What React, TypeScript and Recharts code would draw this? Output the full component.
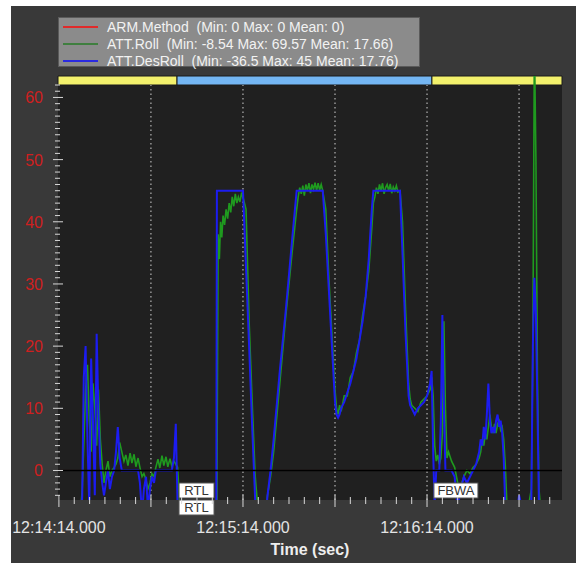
import {
  LineChart,
  Line,
  XAxis,
  YAxis,
  CartesianGrid,
  ReferenceLine,
  ReferenceArea,
} from "recharts";

// seconds since 12:14:14.000
const seconds = [
  7.0, 7.6, 8.1, 8.7, 9.3, 9.9, 10.5, 11.1, 11.7, 12.3, 12.9, 13.5, 14.1, 14.7, 15.3, 16.0, 16.6, 17.3,
  18.0, 18.6, 19.2, 19.8, 20.5, 21.2, 21.8, 22.5, 23.2, 23.8, 24.5, 25.1, 25.8, 26.4, 27.1, 27.7, 28.4,
  29.0, 29.7, 30.3, 31.0, 31.6, 32.3, 32.9, 33.6, 34.2, 34.9, 35.5, 36.2, 36.8, 37.5, 38.1, 38.7, 39.3,
  40.5, 45.0, 50.5, 51.2, 51.5, 51.9, 52.3, 52.7, 53.1, 53.5, 54.0, 54.5, 55.0, 55.5, 56.0, 56.5, 57.0,
  57.5, 58.0, 58.5, 59.0, 59.5, 60.0, 61.0, 62.0, 63.0, 64.0, 65.0, 66.0, 67.0, 68.0, 69.0, 70.0, 72.0,
  74.0, 76.0, 77.5, 78.0, 78.5, 79.0, 79.5, 80.0, 80.5, 81.0, 81.5, 82.0, 82.5, 83.0, 83.5, 84.0, 84.5,
  85.0, 85.5, 86.0, 87.0, 88.0, 89.0, 90.0, 90.5, 91.0, 91.5, 92.0, 93.0, 94.0, 95.0, 96.0, 97.0, 98.0,
  99.0, 100.0, 101.0, 102.0, 102.5, 103.0, 103.5, 104.0, 104.5, 105.0, 105.5, 106.0, 106.5, 107.0,
  107.5, 108.0, 108.5, 109.0, 109.5, 110.0, 110.5, 111.2, 112.0, 113.0, 114.0, 114.5, 115.0, 116.0,
  117.0, 118.0, 119.0, 120.0, 121.0, 121.5, 122.0, 122.5, 123.0, 123.5, 124.0, 124.5, 125.0, 125.5,
  126.0, 126.5, 127.0, 128.0, 129.0, 130.0, 131.0, 132.0, 133.0, 134.0, 135.0, 136.0, 137.0, 137.5,
  138.0, 138.5, 139.0, 139.5, 140.0, 140.5, 141.0, 141.5, 142.0, 142.5, 143.0, 143.5, 144.0, 144.5,
  145.0, 145.5, 146.0, 147.0, 148.0, 149.0, 150.0, 151.0, 152.0, 153.0, 154.0, 154.5, 155.0, 155.5,
  156.0, 156.5, 157.0, 158.0,
];

const attRoll = [
  -7, -3, 4, 13, 17, 8, 3, 14, 10, 4, 13, 5, 1, -2, 0, 1.5, -1, 0,
  0.5, 1, 2, 4.5, 3, 1.5, 2.5, 0.8, 2.8, 1.2, 2.6, 0.6, 2, 0.5, -1, -0.5, -1.5,
  -3, -2, -0.5, -1, 0.5, 1.8, 0.4, 2.4, 0.8, 2.2, 0.6, 1.9, 0.7, 1.5, 1.0, 0.5, -5,
  -7.5, -8, -8.2, -7, -5, 38, 34, 40, 37.5, 41, 39.5, 42, 40.5, 43, 41.5, 44, 42.5,
  44.5, 43, 44, 43.2, 44.5, 44, 42, 24, 11, -1, -7, -8.54, -8, -4, -1, 3, 14,
  25, 35, 42, 44, 45.5, 44.5, 45.8, 44.2, 46, 45, 46.2, 44.6, 46, 45.2, 46.3, 45, 46.2,
  45.1, 46, 45, 42, 31, 22, 13, 10, 9, 10.5, 9.5, 12, 12, 15, 16, 19, 21,
  25, 28, 32, 39, 43, 44, 45.5, 44.5, 46, 45, 46.2, 44.5, 45.5, 46,
  45, 46.1, 44.6, 45.6, 45, 45.8, 44.8, 45, 40, 26, 14, 11.5, 10.5, 10,
  9.5, 11, 11.5, 12, 13, 15, 12, 4, 1.5, 2.5, 1, 2, 6, 24,
  10, 2, 3, 1.5, 0.5, -2, -2.5, -1, 0, -0.5, 0.5, 1, 2, 3,
  5, 4, 6, 5, 7, 9, 7, 6, 7.5, 6, 7.5, 8, 6.5, 7,
  5, 1, -5, -7, -7, -6, -5, -6, -7, -6, -3, 20, 69.57, 50,
  15, -3, -6, -7,
];

const attDesRoll = [
  -12, -4, 15, 20, 5, -6, 18, 8, -4, 22, 9, 1, -2, -4, -2, 0, -3, -1,
  0, 3, 7, 2, 0, 0, 0, 0, 0, 0, 0, 0, 0, -2, -7, -3, -1,
  -6, -3, -1, -2, 0, 0, 0, 0, 0, 0, 0, 0, 0, 2, 7.5, -6, -30,
  -36.5, -36, -35, -34, 45, 45, 45, 45, 45, 45, 45, 45, 45, 45, 45, 45, 45,
  45, 45, 45, 45, 45, 45, 32.5, 20, 7, -5, -12, -14, -10, -4, 0, 5, 16,
  26, 37, 45, 45, 45, 45, 45, 45, 45, 45, 45, 45, 45, 45, 45, 45, 45,
  45, 45, 45, 38, 29, 20, 11, 9, 8.5, 9, 10, 11, 12.5, 14, 16, 18, 21,
  24, 28, 34, 42, 45, 45, 45, 45, 45, 45, 45, 45, 45, 45,
  45, 45, 45, 45, 45, 45, 45, 45, 35, 22, 12, 10.5, 10, 9,
  10, 10.5, 11, 12, 14, 16, 3, -6, 0, 0, 0, 8, 25, 10,
  0, 0, 0, 0, -1, -6, -3, -1, -2, -1, 0, 1, 3, 5,
  4, 7, 5, 9, 14, 8, 6, 7, 6, 8, 9, 7, 8, 6,
  2, -6, -10, -12, -12, -8, -4, -6, -10, -8, -5, 20, 31, 25,
  10, -6, -10, -12,
];

// ARM.Method stays at zero for the whole log
const armSeconds = [-0.3, 164];
const armMethod = [0, 0];

const timeTicks = Array.from({ length: 33 }, (_, i) => i * 5);
const timeLabels = ["12:14:14.000", "12:15:14.000", "12:16:14.000"];
const gridSeconds = [30, 60, 90, 120, 150];
const rollTicks = Array.from({ length: 67 }, (_, i) => i - 4);

const modeStart = [-0.3, 38.5, 121.6];
const modeEnd = [38.5, 121.6, 164];
const modeName = ["FBWA", "RTL", "FBWA"];
const modeColor: Record<string, string> = { FBWA: "#f3f16c", RTL: "#74b6f3" };

const eventSeconds = [38.5, 38.5, 121.6];
const eventNames = ["RTL", "RTL", "FBWA"];

const legendRows = [
  { name: "ARM.Method", stats: "(Min: 0 Max: 0 Mean: 0)", color: "#e02a2a" },
  { name: "ATT.Roll", stats: "(Min: -8.54 Max: 69.57 Mean: 17.66)", color: "#3f7f3f" },
  { name: "ATT.DesRoll", stats: "(Min: -36.5 Max: 45 Mean: 17.76)", color: "#2a2ae0" },
];

const Y_MIN = -4.75;
const Y_MAX = 63.45;
const X_MIN = -0.3;
const X_MAX = 164;

const data = seconds.map((t, i) => ({ t, roll: attRoll[i], des: attDesRoll[i] }));
const armData = armSeconds.map((t, i) => ({ t, arm: armMethod[i] }));

function TimeTick({ x, y, payload }: any) {
  const t = payload.value as number;
  const major = t % 30 === 0;
  const label = t % 60 === 0 ? timeLabels[t / 60] : null;
  return (
    <g>
      <line x1={x} x2={x} y1={y - (major ? 5 : 3)} y2={y + (major ? 7 : 4)} stroke="#d8d8d8" />
      {label && (
        <text x={x} y={y + 33} textAnchor="middle" fill="#e4e4e4" fontSize={16}>
          {label}
        </text>
      )}
    </g>
  );
}

function RollTick({ x, y, payload }: any) {
  const v = payload.value as number;
  const major = v % 10 === 0;
  return (
    <g>
      <line x1={x - (major ? 5 : 3)} x2={x + (major ? 5 : 2)} y1={y} y2={y} stroke="#d8d8d8" />
      {major && (
        <text x={x - 15} y={y + 6} textAnchor="end" fill="#cf1f1f" fontSize={16}>
          {v}
        </text>
      )}
    </g>
  );
}

function EventTag({ viewBox, name, row }: any) {
  if (!viewBox) return null;
  const { x, y, height } = viewBox;
  const w = name.length * 9 + 8;
  const top = y + height - 17 + row * 17;
  return (
    <g>
      <rect x={x + 2} y={top} width={w} height={15} fill="#ffffff" stroke="#555" />
      <text x={x + 2 + w / 2} y={top + 12} textAnchor="middle" fontSize={13} fill="#333">
        {name}
      </text>
    </g>
  );
}

export default function App() {
  return (
    <div
      style={{
        position: "absolute",
        left: 11,
        top: 6,
        width: 565,
        height: 557,
        background: "#393939",
        fontFamily: "'Liberation Sans', Arial, sans-serif",
      }}
    >
      <LineChart
        width={565}
        height={557}
        data={data}
        margin={{ top: 70, right: 14, bottom: 0, left: 0 }}
      >
        <CartesianGrid horizontal={false} vertical={false} fill="#202020" stroke="none" />
        <XAxis
          dataKey="t"
          type="number"
          domain={[X_MIN, X_MAX]}
          allowDataOverflow
          ticks={timeTicks}
          interval={0}
          tick={(p: any) => <TimeTick {...p} />}
          tickLine={false}
          axisLine={false}
          tickSize={0}
          tickMargin={0}
          height={63}
          label={{
            value: "Time (sec)",
            position: "insideBottom",
            offset: 8,
            fill: "#eeeeee",
            fontSize: 16,
            fontWeight: "bold",
          }}
        />
        <YAxis
          type="number"
          domain={[Y_MIN, Y_MAX]}
          allowDataOverflow
          ticks={rollTicks}
          interval={0}
          tick={(p: any) => <RollTick {...p} />}
          tickLine={false}
          axisLine={false}
          tickSize={0}
          tickMargin={0}
          width={47}
        />
        {modeName.map((m, i) => (
          <ReferenceArea
            key={`mode-${i}`}
            x1={modeStart[i]}
            x2={modeEnd[i]}
            y1={62}
            y2={Y_MAX}
            fill={modeColor[m]}
            fillOpacity={1}
            stroke="#1a1a1a"
            strokeWidth={1}
          />
        ))}
        {gridSeconds.map((s) => (
          <ReferenceLine
            key={`grid-${s}`}
            segment={[
              { x: s, y: Y_MIN },
              { x: s, y: 62 },
            ]}
            stroke="#d0d0d0"
            strokeDasharray="1.5 3"
          />
        ))}
        <Line
          data={armData}
          dataKey="arm"
          stroke="#e02a2a"
          strokeWidth={1}
          dot={false}
          isAnimationActive={false}
        />
        <Line
          dataKey="roll"
          stroke="#1f9a1f"
          strokeWidth={1.6}
          dot={false}
          isAnimationActive={false}
        />
        <Line
          dataKey="des"
          stroke="#1c1cf0"
          strokeWidth={2}
          dot={false}
          isAnimationActive={false}
        />
        <ReferenceLine y={0} stroke="#000000" strokeWidth={1.5} />
        {eventNames.map((n, i) => (
          <ReferenceLine
            key={`event-${i}`}
            x={eventSeconds[i]}
            stroke="none"
            label={(p: any) => (
              <EventTag
                {...p}
                name={n}
                row={eventSeconds.slice(0, i).filter((s) => s === eventSeconds[i]).length}
              />
            )}
          />
        ))}
      </LineChart>
      <div
        style={{
          position: "absolute",
          left: 47,
          top: 11,
          width: 360,
          height: 48,
          background: "#8b8b8b",
          border: "1px solid #5a5a5a",
          paddingTop: 0,
        }}
      >
        {legendRows.map((r) => (
          <div
            key={r.name}
            style={{ display: "flex", alignItems: "center", height: 17, marginTop: 0 }}
          >
            <div style={{ width: 35, height: 2, background: r.color, marginLeft: 4, marginRight: 9 }} />
            <span style={{ color: "#f2f2f2", fontSize: 14, whiteSpace: "pre" }}>
              {`${r.name}  ${r.stats}`}
            </span>
          </div>
        ))}
      </div>
    </div>
  );
}
